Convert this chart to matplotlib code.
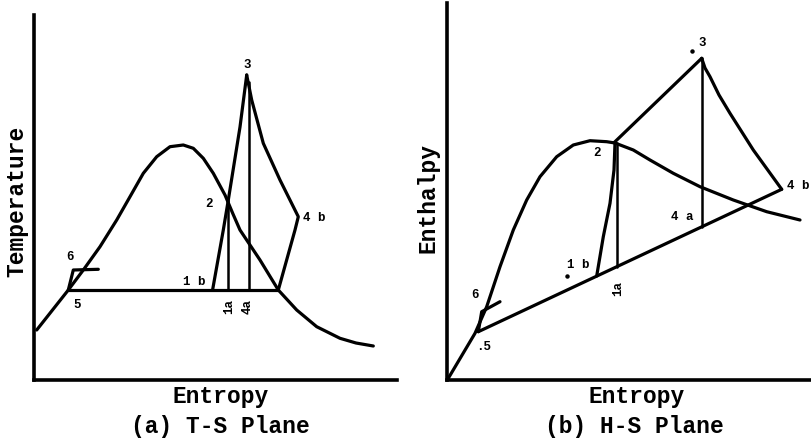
import matplotlib
matplotlib.use("Agg")
import matplotlib.pyplot as plt

# ---- (a) T-S plane, arbitrary units ----
ts_dome_s = [2.7, 18.5, 34.3, 49.3, 66, 82.7, 96, 109.3, 122.7, 136, 149.3, 159.3, 169.3,
             179.3, 191, 199, 206, 226, 244.3, 262.7, 282.7, 306, 322, 339.3]
ts_dome_t = [50, 70, 90, 110, 133.3, 160, 183.3, 206.7, 223.3, 233.3, 235, 231.7, 221.7,
             206.7, 185, 166, 150, 120, 90, 70, 53.3, 41.7, 37, 34]

ts_evap_s = [34.3, 244.3]
ts_evap_t = [90, 90]

ts_pump_s = [34.3, 39.3, 64.3]
ts_pump_t = [90, 110, 110.7]

ts_comp_s = [178.7, 189.3, 194.3, 206, 212.7]
ts_comp_t = [90.7, 150, 180, 253, 305]

ts_exp_s = [212.7, 217.7, 229.3, 246, 264.3, 261, 244.3]
ts_exp_t = [305, 280, 236.7, 200, 163.3, 150, 90]

ts_iso2_s = [194.3, 194.3]
ts_iso2_t = [90, 180]
ts_iso3_s = [215, 215]
ts_iso3_t = [90, 298]

ts_labels = ["3", "2", "4 b", "1 b", "6", "5"]
ts_label_s = [213, 175, 280, 160, 36, 43]
ts_label_t = [315, 176, 162, 98, 123, 75]
ts_rot_labels = ["1a", "4a"]
ts_rot_s = [195, 214]
ts_rot_t = [73, 73]

# ---- (b) H-S plane, arbitrary units ----
hs_dome_s = [1.3, 28, 39.7, 53, 66.3, 79.7, 93, 109.7, 126.3, 143, 159.7, 168, 186.3,
             203, 226.3, 253, 286.3, 319.7, 353]
hs_dome_h = [1.7, 46.7, 73.3, 113.3, 150, 180, 203.3, 223.3, 235, 239.3, 238.3, 237, 230,
             220, 206.7, 193.3, 180, 168.3, 160]

hs_line_s = [31.3, 334.7]
hs_line_h = [48.3, 190.7]

hs_sup_s = [167, 254.7]
hs_sup_h = [237.3, 321.7]

hs_exp_s = [254.7, 258, 263, 272, 283, 306.3, 334.7]
hs_exp_h = [321.7, 312, 303.3, 285, 266.7, 230, 190.7]

hs_comp_s = [149.7, 156.3, 163, 167, 168]
hs_comp_h = [104, 143.3, 176.7, 210, 237]

hs_iso2_s = [169.7, 169.7]
hs_iso2_h = [113.3, 237]
hs_iso3_s = [254.7, 254.7]
hs_iso3_h = [153, 321.7]

hs_pump_s = [31.3, 34.7, 53]
hs_pump_h = [48.3, 68.3, 78.3]

hs_labels = ["3", "2", "4 b", "4 a", "1 b", "6", ".5"]
hs_label_s = [255.7, 149.7, 351.3, 235.7, 131, 28, 36.3]
hs_label_h = [336.7, 226.7, 194, 162.7, 115, 85, 33.3]
hs_dot_s = [244.7, 119.7]
hs_dot_h = [329, 104]
hs_rot_labels = ["1a"]
hs_rot_s = [171.3]
hs_rot_h = [91.7]

FONT = "Liberation Mono"
LW = 2.3

fig = plt.figure(figsize=(8.11, 4.46), dpi=100)
W, H = 811.0, 446.0


def make_axes(left, top, right, bottom):
    ax = fig.add_axes([left / W, 1 - bottom / H, (right - left) / W, (bottom - top) / H])
    ax.set_xlim(0, right - left)
    ax.set_ylim(0, bottom - top)
    for side in ["top", "right"]:
        ax.spines[side].set_visible(False)
    for side in ["left", "bottom"]:
        ax.spines[side].set_linewidth(2.6)
    ax.set_xticks([])
    ax.set_yticks([])
    return ax


def line(ax, xs, ys, lw=LW):
    ax.plot(xs, ys, color="black", linewidth=lw, solid_capstyle="round",
            solid_joinstyle="round", clip_on=False)


def small(ax, s, x, y, rot=0):
    ax.text(x, y, s, fontsize=9, fontweight="bold", family=FONT, ha="center",
            va="center", rotation=rot, clip_on=False)


def big(ax, s, x, y, rot=0):
    ax.text(x, y, s, fontsize=16.5, fontweight="bold", family=FONT, rotation=rot,
            ha="center", va="center", clip_on=False)


# panel (a)
ax = make_axes(34, 15, 397, 380)
line(ax, ts_dome_s, ts_dome_t)
line(ax, ts_evap_s, ts_evap_t)
line(ax, ts_pump_s, ts_pump_t)
line(ax, ts_comp_s, ts_comp_t)
line(ax, ts_exp_s, ts_exp_t)
line(ax, ts_iso2_s, ts_iso2_t, lw=1.8)
line(ax, ts_iso3_s, ts_iso3_t, lw=1.8)
for s, x, y in zip(ts_labels, ts_label_s, ts_label_t):
    small(ax, s, x, y)
for s, x, y in zip(ts_rot_labels, ts_rot_s, ts_rot_t):
    small(ax, s, x, y, rot=90)
big(ax, "Temperature", -17, 179, rot=90)
big(ax, "Entropy", 186.5, -17)
big(ax, "(a) T-S Plane", 186.7, -47)

# panel (b)
ax = make_axes(447, 3, 810, 380)
line(ax, hs_dome_s, hs_dome_h)
line(ax, hs_line_s, hs_line_h)
line(ax, hs_sup_s, hs_sup_h)
line(ax, hs_exp_s, hs_exp_h)
line(ax, hs_comp_s, hs_comp_h)
line(ax, hs_pump_s, hs_pump_h)
line(ax, hs_iso2_s, hs_iso2_h, lw=1.8)
line(ax, hs_iso3_s, hs_iso3_h, lw=1.8)
ax.plot(hs_dot_s, hs_dot_h, "o", color="black", markersize=2.2, clip_on=False)
for s, x, y in zip(hs_labels, hs_label_s, hs_label_h):
    small(ax, s, x, y)
for s, x, y in zip(hs_rot_labels, hs_rot_s, hs_rot_h):
    small(ax, s, x, y, rot=90)
big(ax, "Enthalpy", -19, 182, rot=90)
big(ax, "Entropy", 189.7, -17)
big(ax, "(b) H-S Plane", 187, -47)

fig.savefig("out.png", dpi=100)
